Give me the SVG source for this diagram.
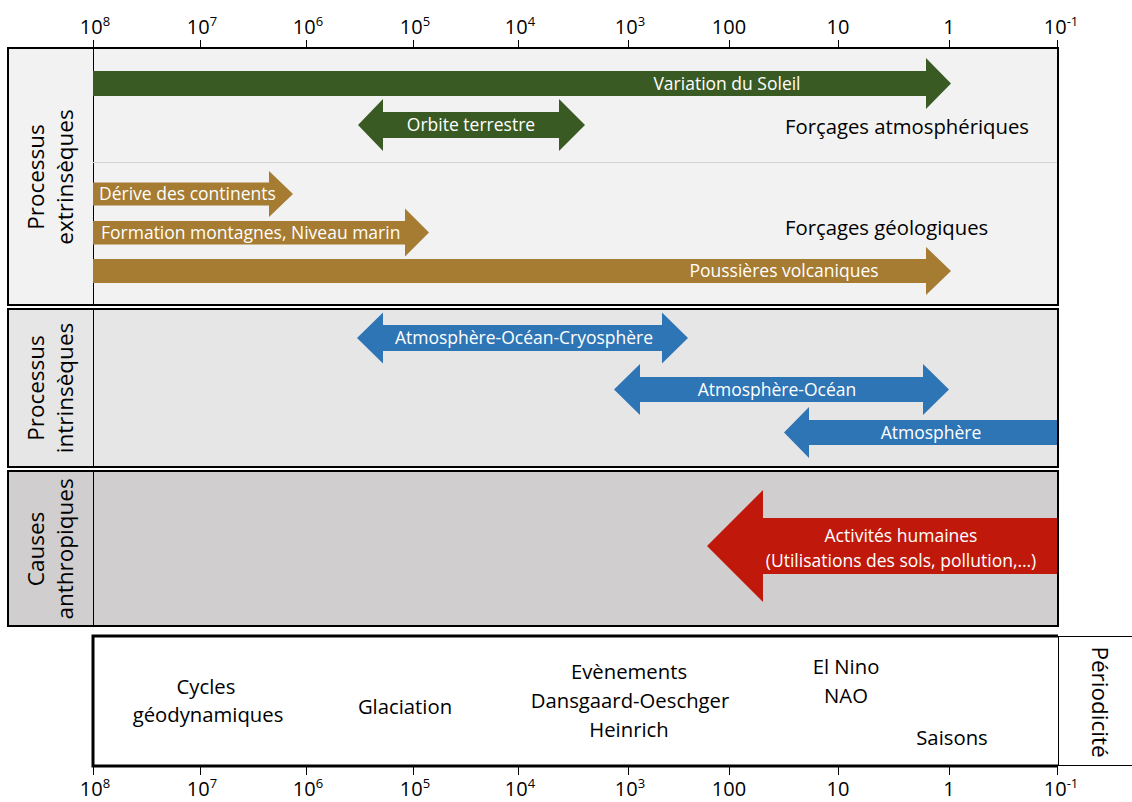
<svg xmlns="http://www.w3.org/2000/svg" width="1132" height="802" viewBox="0 0 1132 802">
<defs>
<style>
.ax{font-family:"Open Sans","Noto Sans",sans-serif;font-size:20px;fill:#000;text-anchor:middle}
.sup{font-size:13px}
.tick{stroke:#000;stroke-width:1}
.panel{stroke:#000;stroke-width:2}
.lbl{font-family:"Open Sans","Noto Sans",sans-serif;font-size:22.5px;fill:#000;text-anchor:middle}
.wt{font-family:"Open Sans","Noto Sans",sans-serif;font-size:17.5px;fill:#fff}
.bt{font-family:"Open Sans","Noto Sans",sans-serif;font-size:20.3px;fill:#000}
.mid{text-anchor:middle}
.green{fill:#3a5a24}
.brown{fill:#a67b32}
.blue{fill:#2e75b6}
.red{fill:#c0190c}
</style>
</defs>
<rect width="1132" height="802" fill="#fff"/>

<g id="top-axis">
<line class="tick" x1="93.5" y1="40" x2="93.5" y2="48"/>
<line class="tick" x1="200.5" y1="40" x2="200.5" y2="48"/>
<line class="tick" x1="306.5" y1="40" x2="306.5" y2="48"/>
<line class="tick" x1="413.5" y1="40" x2="413.5" y2="48"/>
<line class="tick" x1="518.5" y1="40" x2="518.5" y2="48"/>
<line class="tick" x1="628.5" y1="40" x2="628.5" y2="48"/>
<line class="tick" x1="729.5" y1="40" x2="729.5" y2="48"/>
<line class="tick" x1="838.5" y1="40" x2="838.5" y2="48"/>
<line class="tick" x1="949.5" y1="40" x2="949.5" y2="48"/>
<line class="tick" x1="1057.5" y1="40" x2="1057.5" y2="48"/>
<text class="ax" x="95" y="34">10<tspan class="sup" dy="-8">8</tspan></text>
<text class="ax" x="202" y="34">10<tspan class="sup" dy="-8">7</tspan></text>
<text class="ax" x="308" y="34">10<tspan class="sup" dy="-8">6</tspan></text>
<text class="ax" x="415" y="34">10<tspan class="sup" dy="-8">5</tspan></text>
<text class="ax" x="520" y="34">10<tspan class="sup" dy="-8">4</tspan></text>
<text class="ax" x="630" y="34">10<tspan class="sup" dy="-8">3</tspan></text>
<text class="ax" x="729" y="34">100</text>
<text class="ax" x="838" y="34">10</text>
<text class="ax" x="949" y="34">1</text>
<text class="ax" x="1061" y="34">10<tspan class="sup" dy="-8">-1</tspan></text>
</g>

<g id="panel-extrinseques">
<rect class="panel" x="8" y="48" width="1050" height="257" fill="#f2f2f2"/>
<line class="tick" x1="93.5" y1="48" x2="93.5" y2="305"/>
<line x1="93" y1="162.5" x2="1057" y2="162.5" stroke="#d4d4d4" stroke-width="1"/>
<text class="lbl" transform="translate(44,177) rotate(-90)">Processus</text>
<text class="lbl" transform="translate(73,177) rotate(-90)">extrinsèques</text>
<text class="bt" x="785" y="134">Forçages atmosphériques</text>
<text class="bt" x="785" y="235">Forçages géologiques</text>
</g>

<g id="panel-intrinseques">
<rect class="panel" x="8" y="309" width="1050" height="158" fill="#e6e6e6"/>
<line class="tick" x1="93.5" y1="309" x2="93.5" y2="467"/>
<text class="lbl" transform="translate(44,388) rotate(-90)">Processus</text>
<text class="lbl" transform="translate(73,388) rotate(-90)">intrinsèques</text>
</g>

<g id="panel-anthropiques">
<rect class="panel" x="8" y="471" width="1050" height="155" fill="#d0cece"/>
<line class="tick" x1="93.5" y1="471" x2="93.5" y2="626"/>
<text class="lbl" transform="translate(44,549) rotate(-90)">Causes</text>
<text class="lbl" transform="translate(73,549) rotate(-90)">anthropiques</text>
</g>

<g id="arrow-soleil">
<polygon class="green" points="93,71 926,71 926,58 951,83.5 926,109 926,96 93,96"/>
<text class="wt mid" x="727" y="90">Variation du Soleil</text>
</g>
<g id="arrow-orbite">
<polygon class="green" points="358,125 383,99 383,112 559,112 559,99 585,125 559,151 559,138 383,138 383,151"/>
<text class="wt mid" x="471" y="131">Orbite terrestre</text>
</g>
<g id="arrow-derive">
<polygon class="brown" points="93,182.5 269,182.5 269,171 293,194 269,217 269,205.5 93,205.5"/>
<text class="wt" x="99" y="200">Dérive des continents</text>
</g>
<g id="arrow-formation">
<polygon class="brown" points="93,221 405,221 405,208.5 429,232.5 405,256.5 405,244.5 93,244.5"/>
<text class="wt" x="101" y="239">Formation montagnes, Niveau marin</text>
</g>
<g id="arrow-poussieres">
<polygon class="brown" points="93,259 926,259 926,247 951,271 926,295 926,283 93,283"/>
<text class="wt mid" x="784" y="277">Poussières volcaniques</text>
</g>
<g id="arrow-aoc">
<polygon class="blue" points="357,338 383,312.5 383,325 662,325 662,312.5 688,338 662,363.5 662,351 383,351 383,363.5"/>
<text class="wt mid" x="524" y="344">Atmosphère-Océan-Cryosphère</text>
</g>
<g id="arrow-ao">
<polygon class="blue" points="614,389.5 640,364 640,377 923,377 923,364 949,389.5 923,415 923,402 640,402 640,415"/>
<text class="wt mid" x="777" y="395.5">Atmosphère-Océan</text>
</g>
<g id="arrow-atm">
<polygon class="blue" points="784,432.5 809,407 809,420 1057,420 1057,445 809,445 809,458"/>
<text class="wt mid" x="931" y="439">Atmosphère</text>
</g>
<g id="arrow-humaines">
<polygon class="red" points="707,546 763,490 763,518 1057,518 1057,574 763,574 763,602"/>
<text class="wt mid" x="901" y="542">Activités humaines</text>
<text class="wt mid" x="901" y="567">(Utilisations des sols, pollution,…)</text>
</g>

<g id="periodicite">
<polyline points="1058,636 93,636 93,766 1058,766" fill="#fff" stroke="#000" stroke-width="3"/>
<line class="tick" x1="1058.5" y1="636" x2="1058.5" y2="766"/>
<line class="tick" x1="1058" y1="636.5" x2="1132" y2="636.5"/>
<line class="tick" x1="1058" y1="765.5" x2="1132" y2="765.5"/>
<text class="lbl" transform="translate(1092,702) rotate(90)">Périodicité</text>
<text class="bt mid" x="206" y="694">Cycles</text>
<text class="bt mid" x="208" y="722">géodynamiques</text>
<text class="bt mid" x="405" y="714">Glaciation</text>
<text class="bt mid" x="629" y="679">Evènements</text>
<text class="bt mid" x="630" y="708">Dansgaard-Oeschger</text>
<text class="bt mid" x="629" y="737">Heinrich</text>
<text class="bt mid" x="846" y="674">El Nino</text>
<text class="bt mid" x="846" y="703">NAO</text>
<text class="bt mid" x="952" y="745">Saisons</text>
</g>

<g id="bottom-axis">
<line class="tick" x1="93.5" y1="766" x2="93.5" y2="775"/>
<line class="tick" x1="200.5" y1="766" x2="200.5" y2="775"/>
<line class="tick" x1="306.5" y1="766" x2="306.5" y2="775"/>
<line class="tick" x1="413.5" y1="766" x2="413.5" y2="775"/>
<line class="tick" x1="518.5" y1="766" x2="518.5" y2="775"/>
<line class="tick" x1="628.5" y1="766" x2="628.5" y2="775"/>
<line class="tick" x1="729.5" y1="766" x2="729.5" y2="775"/>
<line class="tick" x1="838.5" y1="766" x2="838.5" y2="775"/>
<line class="tick" x1="949.5" y1="766" x2="949.5" y2="775"/>
<line class="tick" x1="1057.5" y1="766" x2="1057.5" y2="775"/>
<text class="ax" x="95" y="796">10<tspan class="sup" dy="-8">8</tspan></text>
<text class="ax" x="202" y="796">10<tspan class="sup" dy="-8">7</tspan></text>
<text class="ax" x="308" y="796">10<tspan class="sup" dy="-8">6</tspan></text>
<text class="ax" x="415" y="796">10<tspan class="sup" dy="-8">5</tspan></text>
<text class="ax" x="520" y="796">10<tspan class="sup" dy="-8">4</tspan></text>
<text class="ax" x="630" y="796">10<tspan class="sup" dy="-8">3</tspan></text>
<text class="ax" x="729" y="796">100</text>
<text class="ax" x="838" y="796">10</text>
<text class="ax" x="949" y="796">1</text>
<text class="ax" x="1061" y="796">10<tspan class="sup" dy="-8">-1</tspan></text>
</g>
</svg>
